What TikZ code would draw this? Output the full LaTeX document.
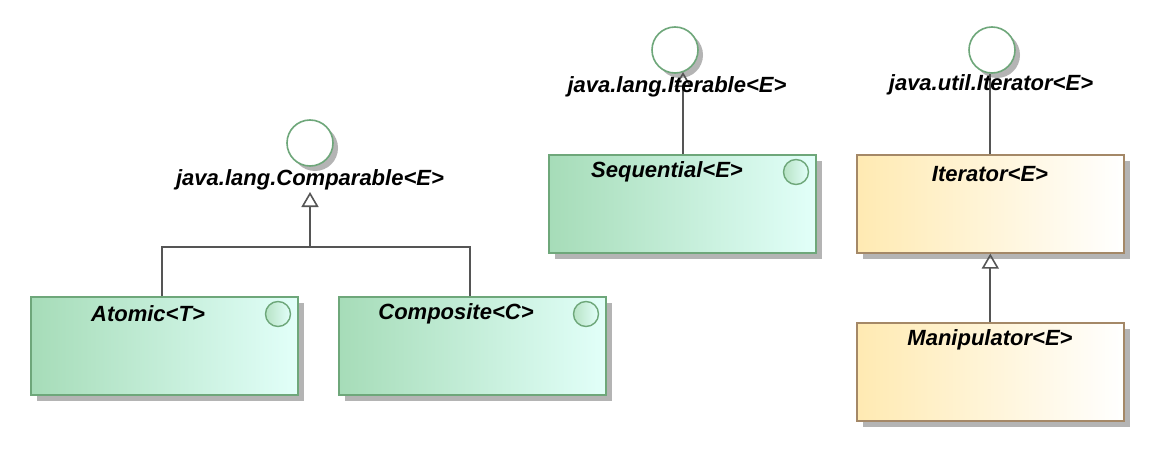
\documentclass[tikz,border=0pt]{standalone}
\usepackage{fontspec}
\setmainfont{Liberation Sans}
\usetikzlibrary{shadows,arrows.meta}
\definecolor{grnL}{HTML}{A6DCB8}
\definecolor{grnR}{HTML}{E2FFF9}
\definecolor{grnB}{HTML}{6EA77A}
\definecolor{ylwL}{HTML}{FFEAB2}
\definecolor{ylwR}{HTML}{FFFFFF}
\definecolor{ylwB}{HTML}{A48867}
\definecolor{shd}{HTML}{B4B4B4}
\definecolor{connc}{HTML}{555555}
\tikzset{
  box/.style={rectangle, line width=1.6pt, minimum width=267pt, minimum height=98pt,
    anchor=north west, inner sep=0pt,
    drop shadow={shadow xshift=6pt, shadow yshift=-6pt, fill=shd, opacity=1}},
  gbox/.style={box, draw=grnB, left color=grnL, right color=grnR},
  ybox/.style={box, draw=ylwB, left color=ylwL, right color=ylwR},
  iface/.style={circle, draw=grnB, line width=1.6pt, fill=white, minimum size=46pt, inner sep=0pt,
    drop shadow={shadow xshift=5pt, shadow yshift=-5pt, fill=shd, opacity=1}},
  icon/.style={circle, draw=grnB, line width=1.4pt, minimum size=25pt, inner sep=0pt,
    left color=grnL!80!white, right color=grnR},
  ttl/.style={inner sep=0pt, anchor=center, text=black},
  connline/.style={draw=connc, line width=1.8pt},
  gen/.style={connline, -{Triangle[open, length=15pt, width=17pt, line width=1.6pt]}}
}
\begin{document}
\begin{tikzpicture}[x=1pt, y=-1pt, font=\fontsize{22}{26}\selectfont\bfseries\itshape]
\useasboundingbox[fill=white] (0,0) rectangle (1152,452);

% ---- Comparable group ----
\node[iface] (cmpC) at (310,143) {};
\coordinate (cmpTip) at (310,192);
\coordinate (cmpJ) at (310,247);
\node[gbox] (atomic) at (30,296) {};
\node[ttl] (atomicT) at (148,314) {Atomic<T>};
\node[icon] (atomicI) at (278,314) {};
\node[gbox] (composite) at (338,296) {};
\node[ttl] (compositeT) at (456,314) {Composite<C>};
\node[icon] (compositeI) at (586,314) {};
\draw[connline] (atomic.north -| 162,0) |- (cmpJ);
\draw[connline] (composite.north -| 470,0) |- (cmpJ);
\draw[gen] (cmpJ) -- (cmpTip);
\node[ttl] (cmpL) at (310,180) {java.lang.Comparable<E>};

% ---- Iterable group ----
\node[iface] (itbC) at (675,50) {};
\coordinate (itbTip) at (683,72);
\node[gbox] (seq) at (548,154) {};
\node[ttl] (seqT) at (667,172) {Sequential<E>};
\node[icon] (seqI) at (796,172) {};
\draw[gen] (seq.north -| itbTip) -- (itbTip);
\node[ttl] (itbL) at (677,87) {java.lang.Iterable<E>};

% ---- Iterator group ----
\node[iface] (itrC) at (992,50) {};
\node[ybox] (iter) at (856,154) {};
\node[ttl] (iterT) at (990,174) {Iterator<E>};
\node[ybox] (manip) at (856,322) {};
\node[ttl] (manipT) at (990,340) {Manipulator<E>};
\draw[connline] (iter.north) -- (iter.north |- itrC.south);
\node[ttl] (itrL) at (991,85) {java.util.Iterator<E>};
\draw[gen] (manip.north) -- (iter.south);
\end{tikzpicture}
\end{document}
